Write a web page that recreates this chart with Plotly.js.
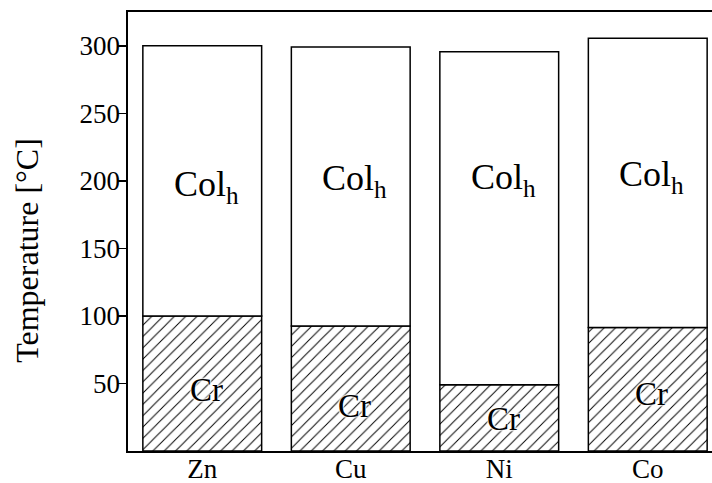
<!DOCTYPE html>
<html>
<head>
<meta charset="utf-8">
<script src="https://cdn.plot.ly/plotly-3.0.1.min.js"></script>
<style>
html,body{margin:0;padding:0;overflow:hidden;background:#fff;}
#chart{width:722px;height:483px;}
</style>
</head>
<body>
<div id="chart"></div>
<script>
// ---- data ----
const metals = ["Zn", "Cu", "Ni", "Co"];
const crUpper = [100, 92.5, 49, 91.5];      // Cr -> Col_h transition (°C)
const colUpper = [300, 299, 295.5, 305.5];  // Col_h -> isotropic (°C)
const yTicks = [50, 100, 150, 200, 250, 300];
const crLabelY = [45, 33, 24, 42];
const colLabelY = [196, 200, 201, 203];
const phaseCr = "Cr";
const phaseCol = "Col<sub>h</sub>";
const yTitle = "Temperature [°C]";

const FONT = "Liberation Serif, Times New Roman, serif";
const W = 722, H = 483, ML = 120, AXL = 128, MT = 12, MB = 32;

const colHeights = colUpper.map((v, i) => v - crUpper[i]);
const metalIdx = metals.map((m, i) => i);

const traceCr = {
  type: "bar",
  x: metals,
  y: crUpper,
  base: metals.map(() => 0),
  marker: {
    color: "white",
    line: {color: "black", width: 1.5},
    pattern: {shape: "/", fgcolor: "black", bgcolor: "white", size: 8, solidity: 0.12}
  },
  hoverinfo: "skip",
  showlegend: false
};
const traceCol = {
  type: "bar",
  x: metals,
  y: colHeights,
  base: crUpper,
  marker: {color: "white", line: {color: "black", width: 1.5}},
  hoverinfo: "skip",
  showlegend: false
};
// empty traces so the label-only axes are drawn
const traceYLabels = {type: "scatter", x: [], y: [], xaxis: "x", yaxis: "y2", hoverinfo: "skip", showlegend: false};
const traceXLabels = {type: "scatter", x: [], y: [], xaxis: "x2", yaxis: "y", hoverinfo: "skip", showlegend: false};

const annotations = [];
metals.forEach((m, i) => {
  annotations.push({
    x: m, y: crLabelY[i], xref: "x", yref: "y", text: phaseCr, showarrow: false,
    xshift: 4,
    font: {family: FONT, size: 33, color: "black",
           shadow: "0 0 2px white, 0 0 2px white, 0 0 3px white, 0 0 3px white"}
  });
  annotations.push({
    x: m, y: colLabelY[i], xref: "x", yref: "y", text: phaseCol, showarrow: false,
    xshift: 4,
    font: {family: FONT, size: 36, color: "black"}
  });
});
// y-axis title
annotations.push({
  x: 0, xref: "paper", xshift: 27 - ML,
  y: 0.456, yref: "paper",
  text: yTitle, textangle: -90, showarrow: false,
  xanchor: "center", yanchor: "middle",
  font: {family: FONT, size: 32, color: "black"}
});

const pw = W - ML;
const ph = H - MT - MB;
const xDomain = [(AXL - ML) / pw, 1];
const layout = {
  width: W,
  height: H,
  margin: {l: ML, r: 0, t: MT, b: MB, pad: 0},
  paper_bgcolor: "white",
  plot_bgcolor: "white",
  bargap: 0.2,
  barmode: "overlay",
  font: {family: FONT, color: "black"},
  xaxis: {
    type: "category",
    domain: xDomain,
    range: [-0.5, 3.5],
    showline: true, linecolor: "black", linewidth: 2, mirror: true,
    ticks: "", showticklabels: false, showgrid: false, zeroline: false
  },
  xaxis2: {
    overlaying: "x",
    anchor: "free",
    position: 1 / ph,
    side: "bottom",
    domain: xDomain,
    range: [-0.5, 3.5],
    tickvals: metalIdx,
    ticktext: metals,
    showline: false, ticks: "", showgrid: false, zeroline: false,
    tickfont: {family: FONT, size: 27, color: "black"}
  },
  yaxis: {
    range: [0, 325],
    tickvals: yTicks,
    showline: true, linecolor: "black", linewidth: 2, mirror: true,
    ticks: "outside", ticklen: 9, tickwidth: 1.5, tickcolor: "black",
    showticklabels: false,
    showgrid: false, zeroline: false
  },
  yaxis2: {
    overlaying: "y",
    anchor: "free",
    position: 0,
    side: "left",
    range: [0, 325],
    tickvals: yTicks,
    showline: false, ticks: "",
    showgrid: false, zeroline: false,
    tickfont: {family: FONT, size: 27, color: "black"}
  },
  annotations: annotations
};

Plotly.newPlot("chart", [traceCr, traceCol, traceYLabels, traceXLabels], layout, {displayModeBar: false, staticPlot: true});
</script>
</body>
</html>
